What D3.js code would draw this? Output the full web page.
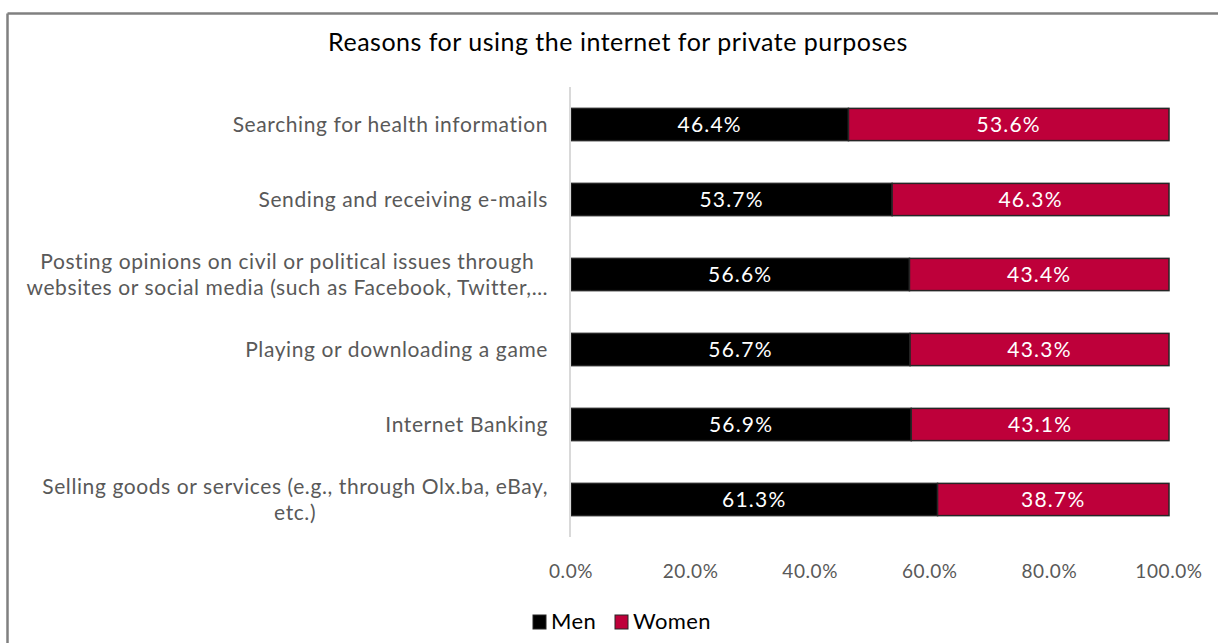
<!DOCTYPE html>
<meta charset="utf-8">
<style>
body { margin: 0; background: #fff; }
svg { display: block; font-family: Lato, "Open Sans", sans-serif; }
.cat-label { fill: #595959; font-size: 21px; letter-spacing: 0.6px; }
.tick-label { fill: #595959; font-size: 19px; letter-spacing: 0.6px; }
.val-label { fill: #fff; font-size: 21px; letter-spacing: 1.2px; }
.title { fill: #000; font-size: 25px; letter-spacing: 0.5px; }
.legend-text { fill: #000; font-size: 22px; letter-spacing: 0.4px; }
</style>
<svg width="1218" height="643"></svg>
<script src="https://d3js.org/d3.v7.min.js"></script>
<script>

var categories = [
  ["Searching for health information"],
  ["Sending and receiving e-mails"],
  ["Posting opinions on civil or political issues through", "websites or social media (such as Facebook, Twitter,…"],
  ["Playing or downloading a game"],
  ["Internet Banking"],
  ["Selling goods or services (e.g., through Olx.ba, eBay,", "etc.)"]
];
var men   = [46.4, 53.7, 56.6, 56.7, 56.9, 61.3];
var women = [53.6, 46.3, 43.4, 43.3, 43.1, 38.7];
var tickValues = [0, 20, 40, 60, 80, 100];
var seriesNames = ["Men", "Women"];
var colors = ["#000000", "#be003a"];

var svg = d3.select("svg");

// frame (only top and left visible in the crop)
svg.append("line").attr("x1", 7.5).attr("x2", 1218).attr("y1", 13.5).attr("y2", 13.5)
  .attr("stroke", "#808080").attr("stroke-width", 2.5);
svg.append("line").attr("x1", 7.5).attr("x2", 7.5).attr("y1", 13.5).attr("y2", 643)
  .attr("stroke", "#808080").attr("stroke-width", 2.5);

svg.append("text").attr("class", "title")
  .attr("x", 618).attr("y", 51).attr("text-anchor", "middle")
  .text("Reasons for using the internet for private purposes");

var x = d3.scaleLinear().domain([0, 100]).range([571, 1169]);
var y = d3.scaleBand().domain(d3.range(categories.length)).range([87, 537]).paddingInner(0.57).paddingOuter(0.285);

var rows = categories.map(function(c, i) {
  return { idx: i, lines: c, parts: [{ v: men[i], x0: 0, k: 0, idx: i }, { v: women[i], x0: men[i], k: 1, idx: i }] };
});

var row = svg.selectAll(".row").data(rows).enter().append("g").attr("class", "row");

row.selectAll("rect").data(function(d) { return d.parts; }).enter().append("rect")
  .attr("x", function(d) { return x(d.x0); })
  .attr("y", function(d) { return y(d.idx); })
  .attr("width", function(d) { return x(d.x0 + d.v) - x(d.x0); })
  .attr("height", y.bandwidth())
  .attr("fill", function(d) { return colors[d.k]; })
  .attr("stroke", "#262626").attr("stroke-width", 1.5);

row.selectAll(".val-label").data(function(d) { return d.parts; })
  .enter().append("text").attr("class", "val-label")
  .attr("x", function(d) { return (x(d.x0) + x(d.x0 + d.v)) / 2; })
  .attr("y", function(d) { return y(d.idx) + y.bandwidth() / 2; })
  .attr("dy", "0.35em").attr("text-anchor", "middle")
  .text(function(d) { return d.v.toFixed(1) + "%"; });

// category labels, multi-line ones centred as a block
row.each(function(d) {
  var g = d3.select(this);
  var cy = y(d.idx) + y.bandwidth() / 2;
  var lh = 26;
  var t = g.append("text").attr("class", "cat-label").attr("text-anchor", "end");
  d.lines.forEach(function(l, k) {
    t.append("tspan").attr("x", 548).attr("y", cy + (k - (d.lines.length - 1) / 2) * lh)
      .attr("dy", "0.35em").text(l);
  });
  if (d.lines.length > 1) {
    var w = d3.max(t.selectAll("tspan").nodes(), function(n) { return n.getComputedTextLength(); });
    t.attr("text-anchor", "middle").selectAll("tspan").attr("x", 548 - w / 2);
  }
});

// axis line
svg.append("line").attr("x1", x(0) - 1).attr("x2", x(0) - 1).attr("y1", 87).attr("y2", 537)
  .attr("stroke", "#d9d9d9").attr("stroke-width", 2);

svg.selectAll(".tick-label").data(tickValues).enter().append("text").attr("class", "tick-label")
  .attr("x", function(d) { return x(d); }).attr("y", 578).attr("text-anchor", "middle")
  .text(function(d) { return d.toFixed(1) + "%"; });

// legend
var lx = [533, 615];
var lg = svg.selectAll(".legend").data(seriesNames).enter().append("g")
  .attr("transform", function(d, i) { return "translate(" + lx[i] + ",615)"; });
lg.append("rect").attr("width", 13).attr("height", 14)
  .attr("fill", function(d, i) { return colors[i]; }).attr("stroke", "#262626").attr("stroke-width", 1);
lg.append("text").attr("class", "legend-text").attr("x", 18).attr("y", 14).text(function(d) { return d; });

</script>
